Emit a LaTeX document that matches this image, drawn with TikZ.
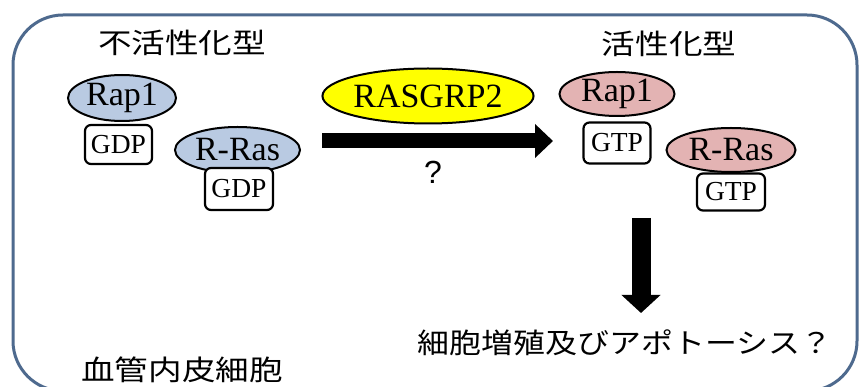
\documentclass[tikz,border=0pt]{standalone}
\usepackage{fontspec}
\usepackage{graphicx}
\setmainfont{Liberation Serif}
\newfontfamily\jpfont{Noto Sans CJK JP}
\newfontfamily\qfont{Liberation Sans}
\usetikzlibrary{shapes.geometric,arrows.meta}
\definecolor{framec}{HTML}{4E6A8E}
\definecolor{bluefill}{HTML}{B9CAE2}
\definecolor{pinkfill}{HTML}{E3B3B3}
\definecolor{yellowfill}{HTML}{FFFF00}
\tikzset{
  prot/.style={ellipse, draw=black, line width=2pt, inner sep=0pt, font=\fontsize{34}{36}\selectfont},
  inact/.style={prot, fill=bluefill},
  act/.style={prot, fill=pinkfill},
  gef/.style={prot, fill=yellowfill},
  nuc/.style={draw=black, fill=white, line width=2.2pt, rounded corners=6pt, inner sep=0pt, font=\fontsize{27.5}{30}\selectfont},
  jptext/.style={inner sep=0pt, font=\jpfont\fontsize{28}{32}\selectfont},
  bigarrow/.style={draw=black}
}
\newcommand{\jpw}[1]{\scalebox{1.2}[1]{#1}}
\begin{document}
\begin{tikzpicture}[x=1pt,y=-1pt]
\useasboundingbox (0,0) rectangle (860,387);
\clip (0,0) rectangle (860,387);
% frame
\draw[framec, line width=3pt, rounded corners=50pt] (13,15) rectangle (857,391);
% titles
\node[jptext] (tinact) at (182,43) {\jpw{不活性化型}};
\node[jptext] (tact) at (669,44) {\jpw{活性化型}};
\node[jptext] (tcell) at (182,370) {\jpw{血管内皮細胞}};
% inactive proteins
\node[inact, minimum width=108pt, minimum height=46pt] (rap1a) at (122,98) {Rap1};
\node[nuc, minimum width=67pt, minimum height=39pt] (gdp1) at (118.5,144.5) {GDP};
\node[inact, minimum width=125pt, minimum height=46pt] (rrasa) at (237.5,150) {R-Ras};
\node[nuc, minimum width=68pt, minimum height=42pt] (gdp2) at (239,189) {GDP};
% GEF
\node[gef, minimum width=191pt, minimum height=55pt] (gef) at (428,96) {RASGRP2};
% active proteins
\node[act, minimum width=115pt, minimum height=44pt] (rap1b) at (617,94) {Rap1};
\node[nuc, minimum width=67pt, minimum height=41pt] (gtp1) at (617,143) {GTP};
\node[act, minimum width=129pt, minimum height=44pt] (rrasb) at (731,150) {R-Ras};
\node[nuc, minimum width=68pt, minimum height=37pt] (gtp2) at (731,192) {GTP};
% horizontal arrow
\coordinate (h1) at (322,141);
\coordinate (h2) at (553,141);
\draw[bigarrow, line width=15pt, -{Triangle[length=18pt,width=33pt]}] (h1) -- (h2);
\node[inner sep=0pt, font=\qfont\fontsize{32}{34}\selectfont] (q) at (433,172) {?};
% vertical arrow
\coordinate (v1) at (641,218);
\coordinate (v2) at (641,313);
\draw[bigarrow, line width=19pt, -{Triangle[length=18pt,width=38pt]}] (v1) -- (v2);
\node[jptext] (outcome) at (625,343) {\scalebox{1.14}[1]{細胞増殖及びアポトーシス？}};
\end{tikzpicture}
\end{document}
